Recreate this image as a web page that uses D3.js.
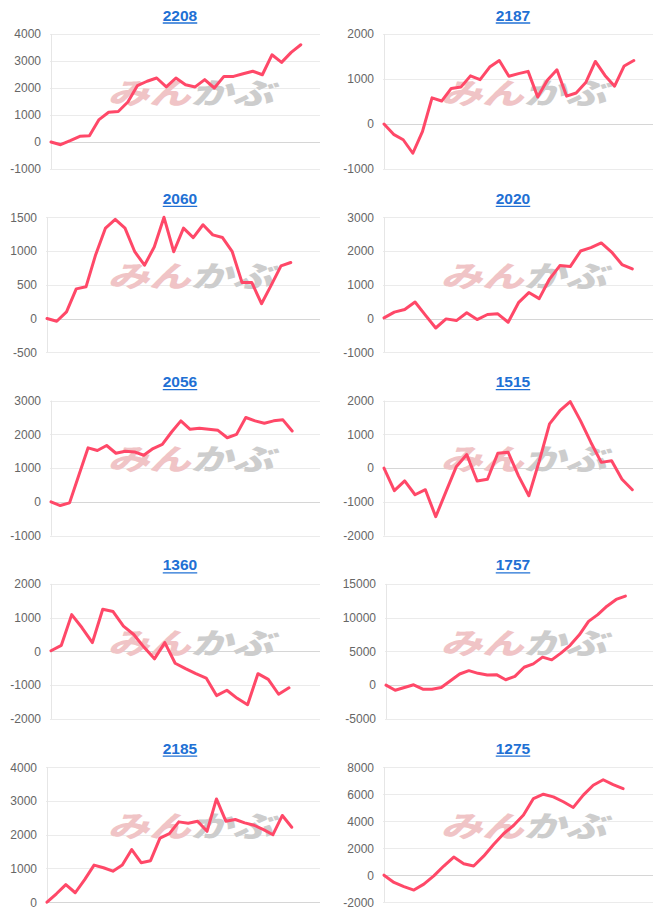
<!DOCTYPE html>
<html>
<head>
<meta charset="utf-8">
<script src="https://cdn.jsdelivr.net/npm/d3@7"></script>
<style>
  html, body { margin: 0; padding: 0; background: #ffffff; }
  svg { display: block; }
</style>
</head>
<body>
<svg id="chart" width="666" height="920"></svg>
<script>
// ---------- data ----------
const titles = ["2208", "2187", "2060", "2020", "2056", "1515", "1360", "1757", "2185", "1275"];

const v2208 = [0, -100, 50, 210, 235, 830, 1100, 1130, 1480, 2090, 2250, 2370, 2040, 2370, 2120, 2040, 2310, 2000, 2430, 2430, 2530, 2620, 2490, 3230, 2950, 3320, 3600];
const v2187 = [0, -230, -350, -650, -170, 580, 510, 790, 820, 1070, 985, 1265, 1410, 1060, 1120, 1170, 600, 970, 1205, 620, 690, 920, 1390, 1080, 840, 1290, 1410];
const v2060 = [0, -40, 100, 440, 470, 950, 1340, 1470, 1340, 990, 790, 1060, 1500, 990, 1340, 1200, 1390, 1240, 1200, 990, 535, 535, 220, 495, 780, 830];
const v2020 = [20, 190, 270, 490, 100, -280, -10, -60, 170, -30, 120, 140, -110, 470, 770, 590, 1170, 1570, 1540, 2000, 2100, 2240, 1970, 1600, 1470];
const v2056 = [0, -110, -30, 790, 1600, 1520, 1670, 1440, 1500, 1480, 1380, 1580, 1700, 2070, 2400, 2150, 2180, 2150, 2120, 1900, 2000, 2500, 2400, 2330, 2400, 2430, 2100];
const v1515 = [0, -670, -380, -790, -640, -1440, -690, 50, 400, -380, -330, 440, 470, -230, -820, 200, 1310, 1700, 1970, 1400, 760, 170, 220, -330, -640];
const v1360 = [20, 180, 1090, 700, 260, 1250, 1180, 750, 500, 120, -220, 260, -350, -510, -660, -790, -1310, -1150, -1390, -1580, -660, -830, -1270, -1080];
const v1757 = [0, -750, -350, 50, -600, -600, -350, 650, 1650, 2150, 1750, 1500, 1550, 800, 1300, 2650, 3150, 4150, 3750, 4750, 5900, 7450, 9450, 10450, 11700, 12700, 13200];
const v2185 = [0, 250, 520, 280, 670, 1100, 1020, 920, 1100, 1560, 1170, 1230, 1900, 2030, 2380, 2340, 2400, 2100, 3060, 2400, 2450, 2350, 2280, 2150, 2000, 2570, 2220];
const v1275 = [0, -540, -850, -1100, -660, -50, 680, 1340, 850, 680, 1410, 2270, 3070, 3680, 4460, 5680, 6000, 5800, 5440, 5020, 5930, 6660, 7070, 6710, 6410];

const series = [v2208, v2187, v2060, v2020, v2056, v1515, v1360, v1757, v2185, v1275];

// number of category slots on each x axis
const xSlots = [29, 29, 29, 27, 30, 27, 27, 30, 30, 28];

// y-axis tick labels of each panel
const t2208 = [-1000, 0, 1000, 2000, 3000, 4000];
const t2187 = [-1000, 0, 1000, 2000];
const t2060 = [-500, 0, 500, 1000, 1500];
const t2020 = [-1000, 0, 1000, 2000, 3000];
const t2056 = [-1000, 0, 1000, 2000, 3000];
const t1515 = [-2000, -1000, 0, 1000, 2000];
const t1360 = [-2000, -1000, 0, 1000, 2000];
const t1757 = [-5000, 0, 5000, 10000, 15000];
const t2185 = [0, 1000, 2000, 3000, 4000];
const t1275 = [-2000, 0, 2000, 4000, 6000, 8000];
const ticks = [t2208, t2187, t2060, t2020, t2056, t1515, t1360, t1757, t2185, t1275];

// ---------- drawing ----------
const svg = d3.select("#chart");
const FONT = "'Liberation Sans', Arial, Helvetica, sans-serif";
const LINE_COLOR = "#ff4868";

const meas = svg.append("text").attr("font-family", FONT).attr("font-size", 12).attr("visibility", "hidden");
function textW(s) { meas.text(s); return meas.node().getComputedTextLength(); }

titles.forEach((title, i) => {
  const col = i % 2, row = Math.floor(i / 2);
  const colX = col * 333;
  const top = 34 + row * 183.3;
  const bottom = top + 135;
  const tk = ticks[i];
  const maxW = d3.max(tk, t => textW(String(t)));
  const left = colX + Math.round(maxW + 20);
  const right = colX + 320;

  const y = d3.scaleLinear().domain(d3.extent(tk)).range([bottom, top]);
  const x = d3.scaleLinear().domain([0, xSlots[i] - 1]).range([left, right]);

  const g = svg.append("g");

  // title (link style)
  const tx = colX + 180;
  const ty = top - 13.5;
  const tt = g.append("text")
    .attr("x", tx).attr("y", ty)
    .attr("text-anchor", "middle")
    .attr("font-family", FONT)
    .attr("font-size", 15.5)
    .attr("font-weight", "bold")
    .attr("fill", "#2170d4")
    .text(title);
  const tw = tt.node().getComputedTextLength();
  g.append("line")
    .attr("x1", tx - tw / 2).attr("x2", tx + tw / 2)
    .attr("y1", ty + 2.5).attr("y2", ty + 2.5)
    .attr("stroke", "#2170d4").attr("stroke-width", 1.3);

  // y axis labels
  const axis = d3.axisLeft(y).tickValues(tk).tickSize(0).tickPadding(10).tickFormat(d => String(d));
  const ag = g.append("g").attr("transform", `translate(${left},0)`).call(axis);
  ag.select(".domain").remove();
  ag.selectAll("text")
    .attr("font-family", FONT)
    .attr("font-size", 12)
    .attr("fill", "#666666");

  // gridlines
  g.append("g").selectAll("line").data(tk).join("line")
    .attr("x1", left - 1).attr("x2", right)
    .attr("y1", d => Math.round(y(d)) + 0.5).attr("y2", d => Math.round(y(d)) + 0.5)
    .attr("stroke", d => d === 0 ? "#d6d6d6" : "#ebebeb")
    .attr("stroke-width", 1);

  // left axis line
  g.append("line")
    .attr("x1", left + 0.5).attr("x2", left + 0.5)
    .attr("y1", top).attr("y2", bottom)
    .attr("stroke", "#e6e6e6").attr("stroke-width", 1);

  // watermark
  const wm = g.append("g")
    .attr("transform", `translate(${colX + 195},${top + 57}) scale(1.22,0.86) skewX(-14)`);
  const wmt = wm.append("text")
    .attr("text-anchor", "middle")
    .attr("dominant-baseline", "central")
    .attr("font-family", "'Noto Sans CJK JP', sans-serif")
    .attr("font-weight", 900)
    .attr("font-size", 34);
  wmt.append("tspan").attr("fill", "#f0c4c6").text("みん");
  wmt.append("tspan").attr("fill", "#cdcdcd").text("かぶ");

  // data line
  const line = d3.line().x((d, k) => x(k)).y(d => y(d));
  g.append("path")
    .datum(series[i])
    .attr("d", line)
    .attr("fill", "none")
    .attr("stroke", LINE_COLOR)
    .attr("stroke-width", 3)
    .attr("stroke-linejoin", "round")
    .attr("stroke-linecap", "round");
});
meas.remove();
</script>
</body>
</html>
